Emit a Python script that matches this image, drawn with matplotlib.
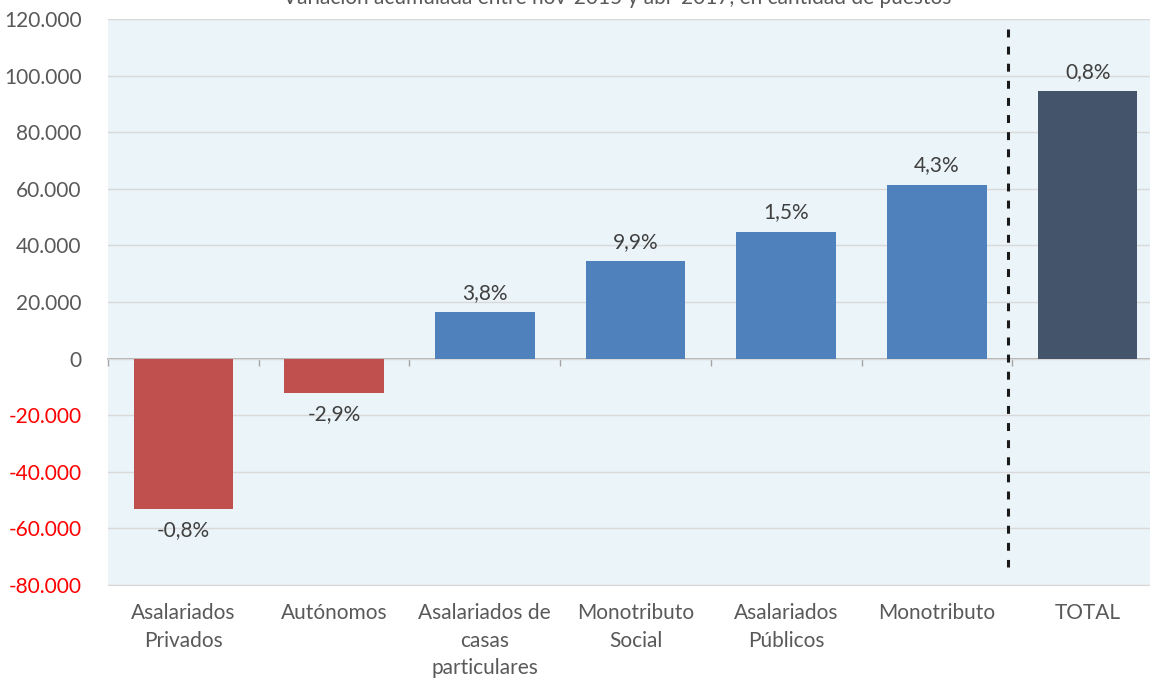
import matplotlib
matplotlib.use("Agg")
import matplotlib.pyplot as plt
from matplotlib.ticker import FixedLocator

plt.rcParams['font.family'] = ['Lato', 'DejaVu Sans']

categories = ["Asalariados\nPrivados", "Autónomos", "Asalariados de\ncasas\nparticulares",
              "Monotributo\nSocial", "Asalariados\nPúblicos", "Monotributo", "TOTAL"]
values = [-53000, -12000, 16600, 34600, 44900, 61500, 94400]
pct_labels = ["-0,8%", "-2,9%", "3,8%", "9,9%", "1,5%", "4,3%", "0,8%"]
colors = ["#C0504D", "#C0504D", "#4F81BD", "#4F81BD", "#4F81BD", "#4F81BD", "#44546A"]
yticks = [-80000, -60000, -40000, -20000, 0, 20000, 40000, 60000, 80000, 100000, 120000]
ytick_labels = ["-80.000", "-60.000", "-40.000", "-20.000", "0", "20.000", "40.000",
                "60.000", "80.000", "100.000", "120.000"]
title = "Variación acumulada entre nov-2015 y abr-2017, en cantidad de puestos"

W, H = 1150, 679
fig = plt.figure(figsize=(W / 100, H / 100), dpi=100)
fig.patch.set_facecolor("white")
left, right, top, bottom = 108, 1163, 19, 585
ax = fig.add_axes([left / W, 1 - bottom / H, (right - left) / W, (bottom - top) / H])
ax.set_facecolor("#EBF4F8")

x = list(range(len(categories)))
ax.bar(x, values, width=0.66, color=colors, zorder=3)

ax.set_xlim(-0.5, len(categories) - 0.5)
ax.set_ylim(-80000, 120000)
ax.set_yticks(yticks)
ax.set_yticklabels(ytick_labels)
for lbl, v in zip(ax.get_yticklabels(), yticks):
    lbl.set_color("#FF0000" if v < 0 else "#595959")
    lbl.set_fontsize(15)
ax.tick_params(axis='y', length=0, pad=19)
ax.yaxis.grid(True, color="#D9D9D9", linewidth=1, zorder=1)

ax.set_xticks(x)
ax.set_xticklabels(categories, fontsize=15, color="#595959", linespacing=1.48, va='top')
ax.tick_params(axis='x', length=0, pad=13)

for s in ['top', 'right', 'left']:
    ax.spines[s].set_visible(False)
ax.spines['bottom'].set_color("#D9D9D9")

# zero axis with boundary ticks
sec = ax.secondary_xaxis(0.4)
sec.xaxis.set_major_locator(FixedLocator([i - 0.5 for i in range(len(categories) + 1)]))
sec.tick_params(axis='x', direction='out', length=5, color="#A6A6A6", labelbottom=False, width=1)
sec.spines['bottom'].set_color("#A6A6A6")
sec.spines['bottom'].set_linewidth(1.2)
for s in ['top', 'left', 'right']:
    sec.spines[s].set_visible(False)

# value labels
for xi, v, t in zip(x, values, pct_labels):
    if v >= 0:
        ax.annotate(t, (xi, v), xytext=(0, 6.5), textcoords='offset points', ha='center',
                    va='bottom', fontsize=15, color="#404040", zorder=4)
    else:
        ax.annotate(t, (xi, v), xytext=(0, -8), textcoords='offset points', ha='center',
                    va='top', fontsize=15, color="#404040", zorder=4)

# dashed separator
ax.plot([5.47, 5.47], [116500, -73500], color="#1A1A1A", linewidth=2.2,
        linestyle=(0, (2.6, 3.0)), zorder=5)

fig.text(617 / W, 1 - 4 / H, title, ha='center', va='baseline', fontsize=15, color="#595959")

fig.savefig("out.png", dpi=100)
